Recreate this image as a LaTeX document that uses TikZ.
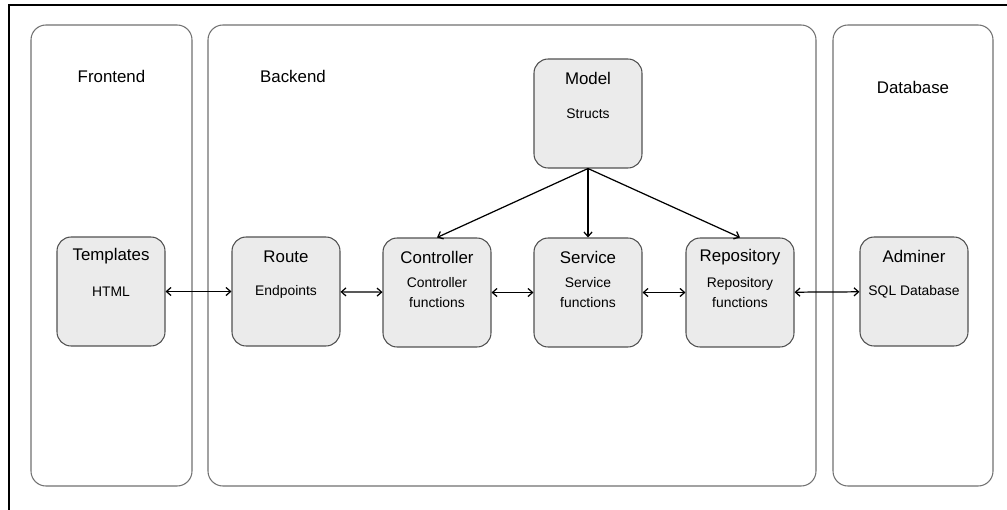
\documentclass[tikz,border=0pt]{standalone}
\usepackage{fontspec}
\setmainfont{Liberation Sans}
\usepackage{xcolor}
\usetikzlibrary{arrows.meta}

\definecolor{boxfill}{HTML}{EBEBEB}
\definecolor{boxline}{HTML}{505050}
\definecolor{panelline}{HTML}{707070}

\begin{document}
\begin{tikzpicture}[x=0.02cm,y=-0.02cm,
    >={Straight Barb[length=2.6pt,width=4.6pt]},
    panel/.style={draw=panelline, line width=0.6pt, rounded corners=8.5pt},
    paneltitle/.style={font=\fontsize{9.6}{11}\selectfont},
    box/.style={draw=boxline, fill=boxfill, line width=0.6pt, rounded corners=8pt,
        minimum width=2.16cm, minimum height=2.18cm, inner sep=0pt, align=center,
        font=\fontsize{7.9}{11.3}\selectfont},
    boxtitle/.style={anchor=center, yshift=-11.4pt, font=\fontsize{9.6}{11}\selectfont},
    link/.style={<->, line width=0.7pt},
    feed/.style={->, line width=0.7pt}]

\useasboundingbox (0,0) rectangle (1007,510);

% frame of the screenshot
\draw[line width=1.2pt] (9,510) -- (9,5) -- (1007,5);

% --------------------------------------------------
% Panels
% --------------------------------------------------
\draw[panel] (31,25) rectangle (192,486);
\draw[panel] (208,25) rectangle (816,486);
\draw[panel] (833,25) rectangle (993,486);

\node[paneltitle] (fronttitle) at (111.5,76) {Frontend};
\node[paneltitle] (backtitle) at (293,76) {Backend};
\node[paneltitle] (dbtitle) at (913,87) {Database};

% --------------------------------------------------
% Boxes
% --------------------------------------------------
\node[box, label={[boxtitle]north:Templates}] (templates) at (111,291.5) {HTML};
\node[box, label={[boxtitle]north:Route}] (route) at (286,291.5) {Endpoints};
\node[box, label={[boxtitle]north:Controller}] (controller) at (437,292.5) {Controller\\functions};
\node[box, label={[boxtitle]north:Service}] (service) at (588,292.5) {Service\\functions};
\node[box, label={[boxtitle]north:Repository}] (repository) at (740,292.5) {Repository\\functions};
\node[box, label={[boxtitle]north:Adminer}] (adminer) at (914,291.5) {SQL Database};

\node[box, label={[boxtitle]north:Model}] (model) at (588,113.5) {Structs};

% --------------------------------------------------
% Connectors
% --------------------------------------------------
\draw[link] (templates) -- (route);
\draw[link] (route) -- (controller);
\draw[link] (controller) -- (service);
\draw[link] (service) -- (repository);
\draw[link] (repository) -- (adminer);

\draw[feed] (model.south) -- (controller.north);
\draw[feed] (model.south) -- (service.north);
\draw[feed] (model.south) -- (repository.north);

\end{tikzpicture}
\end{document}
